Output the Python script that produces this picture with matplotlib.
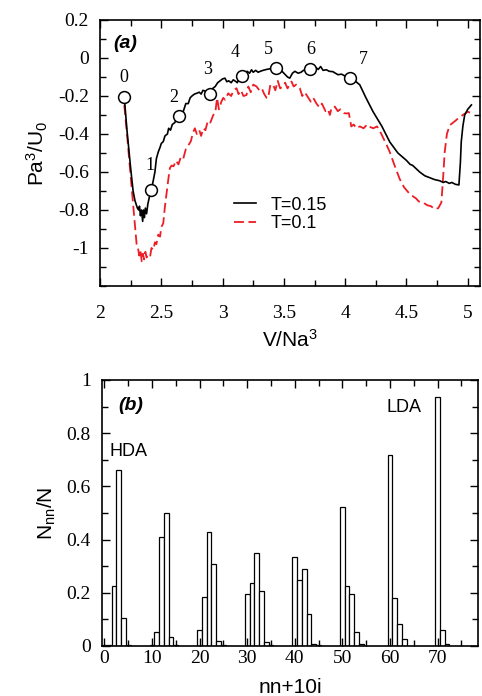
import matplotlib
matplotlib.use("Agg")
import matplotlib.pyplot as plt
from matplotlib.ticker import MultipleLocator

plt.rcParams["mathtext.fontset"] = "custom"
plt.rcParams["mathtext.rm"] = "Liberation Sans"
plt.rcParams["mathtext.it"] = "Liberation Sans:italic"

# ---- panel (a): pressure vs volume ----
v_hot = [2.198, 2.22, 2.25, 2.27, 2.285, 2.295, 2.305, 2.315, 2.322, 2.33, 2.338, 2.348,
         2.355, 2.362, 2.37, 2.38, 2.39, 2.40, 2.416, 2.43, 2.448, 2.46, 2.475, 2.49,
         2.50, 2.516, 2.53, 2.55, 2.56, 2.575, 2.59, 2.61, 2.625, 2.644, 2.66, 2.68,
         2.70, 2.72, 2.735, 2.75, 2.77, 2.788, 2.81, 2.825, 2.84, 2.86, 2.88, 2.899,
         2.92, 2.94, 2.96, 2.98, 3.00, 3.019, 3.035, 3.05, 3.07, 3.087, 3.10, 3.12,
         3.14, 3.160, 3.18, 3.20, 3.22, 3.236, 3.25, 3.27, 3.29, 3.304, 3.33, 3.36,
         3.40, 3.434, 3.47, 3.50, 3.53, 3.548, 3.57, 3.59, 3.616, 3.64, 3.66, 3.69,
         3.717, 3.74, 3.76, 3.78, 3.80, 3.82, 3.847, 3.87, 3.90, 3.92, 3.942, 3.97,
         4.00, 4.043, 4.08, 4.119, 4.17, 4.228, 4.30, 4.364, 4.43, 4.50, 4.53, 4.55,
         4.608, 4.65, 4.69, 4.73, 4.771, 4.80, 4.82, 4.85, 4.87, 4.90, 4.928, 4.94,
         4.947, 4.96, 4.975, 5.00, 5.03]
p_hot = [-0.207, -0.38, -0.58, -0.70, -0.75, -0.77, -0.79, -0.80, -0.78, -0.83, -0.80, -0.86,
         -0.80, -0.84, -0.79, -0.82, -0.77, -0.74, -0.695, -0.66, -0.60, -0.53, -0.495, -0.47,
         -0.45, -0.44, -0.41, -0.40, -0.37, -0.38, -0.35, -0.34, -0.32, -0.304, -0.29, -0.28,
         -0.24, -0.24, -0.21, -0.20, -0.19, -0.186, -0.18, -0.19, -0.17, -0.175, -0.18, -0.187,
         -0.16, -0.15, -0.13, -0.12, -0.11, -0.106, -0.125, -0.12, -0.13, -0.115, -0.12, -0.13,
         -0.10, -0.094, -0.085, -0.07, -0.08, -0.062, -0.075, -0.065, -0.075, -0.071, -0.065, -0.06,
         -0.055, -0.053, -0.06, -0.08, -0.10, -0.106, -0.08, -0.07, -0.08, -0.075, -0.065, -0.06,
         -0.057, -0.058, -0.05, -0.06, -0.045, -0.065, -0.062, -0.07, -0.072, -0.08, -0.088, -0.085,
         -0.095, -0.103, -0.12, -0.141, -0.21, -0.283, -0.36, -0.442, -0.50, -0.539, -0.56, -0.565,
         -0.60, -0.62, -0.63, -0.64, -0.646, -0.655, -0.65, -0.66, -0.655, -0.665, -0.668, -0.55,
         -0.442, -0.36, -0.30, -0.27, -0.247]

v_cold = [2.198, 2.22, 2.245, 2.26, 2.272, 2.285, 2.30, 2.31, 2.32, 2.33, 2.34, 2.35,
          2.36, 2.37, 2.38, 2.394, 2.41, 2.42, 2.435, 2.448, 2.46, 2.475, 2.49, 2.50,
          2.516, 2.53, 2.545, 2.557, 2.57, 2.584, 2.60, 2.62, 2.64, 2.66, 2.679, 2.70,
          2.72, 2.74, 2.76, 2.774, 2.79, 2.81, 2.825, 2.842, 2.86, 2.88, 2.90, 2.924,
          2.94, 2.955, 2.97, 2.99, 3.005, 3.02, 3.046, 3.07, 3.09, 3.114, 3.13, 3.15,
          3.17, 3.195, 3.21, 3.23, 3.25, 3.277, 3.30, 3.32, 3.34, 3.36, 3.371, 3.39,
          3.413, 3.43, 3.45, 3.47, 3.49, 3.51, 3.53, 3.562, 3.58, 3.60, 3.63, 3.65,
          3.67, 3.70, 3.72, 3.74, 3.766, 3.79, 3.81, 3.84, 3.86, 3.875, 3.89, 3.916,
          3.94, 3.96, 3.99, 4.011, 4.03, 4.05, 4.07, 4.09, 4.12, 4.15, 4.18, 4.20,
          4.23, 4.26, 4.28, 4.31, 4.34, 4.364, 4.40, 4.445, 4.48, 4.527, 4.58, 4.60,
          4.635, 4.67, 4.70, 4.731, 4.76, 4.785, 4.80, 4.812, 4.83, 4.853, 4.88, 4.90,
          4.935, 4.96, 5.0, 5.04]
p_cold = [-0.248, -0.40, -0.584, -0.70, -0.778, -0.88, -0.99, -1.00, -1.04, -1.01, -1.07, -1.03,
          -1.06, -1.02, -1.05, -1.03, -1.04, -1.00, -1.01, -0.97, -0.98, -0.93, -0.94, -0.89,
          -0.87, -0.78, -0.70, -0.64, -0.58, -0.566, -0.57, -0.54, -0.56, -0.52, -0.53, -0.48,
          -0.46, -0.44, -0.39, -0.37, -0.40, -0.38, -0.41, -0.37, -0.38, -0.33, -0.34, -0.30,
          -0.29, -0.21, -0.27, -0.23, -0.21, -0.22, -0.186, -0.20, -0.17, -0.159, -0.19, -0.17,
          -0.20, -0.195, -0.15, -0.18, -0.14, -0.15, -0.17, -0.16, -0.19, -0.21, -0.212, -0.14,
          -0.141, -0.17, -0.12, -0.16, -0.15, -0.13, -0.16, -0.124, -0.15, -0.14, -0.159, -0.20,
          -0.18, -0.21, -0.23, -0.21, -0.24, -0.26, -0.24, -0.28, -0.27, -0.30, -0.26, -0.256,
          -0.28, -0.27, -0.29, -0.292, -0.29, -0.36, -0.35, -0.37, -0.36, -0.37, -0.35, -0.362,
          -0.37, -0.36, -0.38, -0.42, -0.46, -0.495, -0.56, -0.637, -0.68, -0.716, -0.74, -0.755,
          -0.76, -0.775, -0.78, -0.796, -0.79, -0.76, -0.62, -0.495, -0.40, -0.354, -0.34, -0.33,
          -0.31, -0.30, -0.283, -0.292]

state_v = [2.198, 2.416, 2.644, 2.899, 3.160, 3.434, 3.717, 4.043]
state_p = [-0.207, -0.695, -0.304, -0.187, -0.094, -0.053, -0.057, -0.103]
state_labels = ["0", "1", "2", "3", "4", "5", "6", "7"]

# ---- panel (b): nearest-neighbour histogram ----
nn_pos = [0, 1, 2, 3, 4, 5,
          10, 11, 12, 13, 14, 15,
          20, 21, 22, 23, 24, 25,
          30, 31, 32, 33, 34, 35,
          40, 41, 42, 43, 44, 45,
          50, 51, 52, 53, 54,
          60, 61, 62, 63,
          70, 71, 72]
nn_frac = [0.004, 0.004, 0.225, 0.66, 0.107, 0.003,
           0.004, 0.054, 0.41, 0.50, 0.035, 0.003,
           0.062, 0.183, 0.43, 0.307, 0.018, 0.004,
           0.195, 0.238, 0.348, 0.207, 0.014, 0.004,
           0.336, 0.248, 0.289, 0.121, 0.009, 0.003,
           0.521, 0.226, 0.195, 0.054, 0.006,
           0.717, 0.179, 0.082, 0.025,
           0.935, 0.06, 0.008]

# label offsets (points, centre of number relative to marker)
label_offsets = [(0, 14), (-1, 17.5), (-4, 13), (-2, 17), (-5, 16.5), (-5, 13.5), (0, 14), (9.5, 13)]

serif = "Liberation Serif"
sans = "Liberation Sans"

fig = plt.figure(figsize=(4.82, 6.96), dpi=100)
ax1 = fig.add_axes([100 / 482, 1 - 286 / 696, 380 / 482, 266 / 696])
ax2 = fig.add_axes([102 / 482, 1 - 646 / 696, 376 / 482, 266 / 696])

for ax in (ax1, ax2):
    ax.tick_params(which="both", direction="in", top=True, right=True, width=1.0)
    ax.tick_params(which="major", length=6)
    ax.tick_params(which="minor", length=4)
    for sp in ax.spines.values():
        sp.set_linewidth(1.2)

# (a)
ax1.plot(v_hot, p_hot, color="black", lw=1.2, label="T=0.15", zorder=3)
ax1.plot(v_cold, p_cold, color="#ee1c25", lw=1.3, dashes=(5.5, 2.5), label="T=0.1", zorder=2)
ax1.plot(state_v, state_p, "o", ms=8.5, mfc="white", mec="black", mew=1.1, zorder=4)
for v, p, t, off in zip(state_v, state_p, state_labels, label_offsets):
    ax1.annotate(t, (v, p), xytext=off, textcoords="offset points",
                 ha="center", va="center", fontsize=13, family=serif)
ax1.set_xlim(2, 5.1)
ax1.set_ylim(-1.2, 0.2)
ax1.xaxis.set_minor_locator(MultipleLocator(0.25))
ax1.yaxis.set_minor_locator(MultipleLocator(0.1))
ax1.set_xticks([2, 2.5, 3, 3.5, 4, 4.5, 5])
ax1.set_xticklabels(["2", "2.5", "3", "3.5", "4", "4.5", "5"])
ax1.set_yticks([-1, -0.8, -0.6, -0.4, -0.2, 0, 0.2])
ax1.set_yticklabels(["-1", "-0.8", "-0.6", "-0.4", "-0.2", "0", "0.2"])
ax1.tick_params(axis="x", labelsize=14, pad=14)
ax1.tick_params(axis="y", labelsize=14, pad=8)
for lab in ax1.get_xticklabels() + ax1.get_yticklabels():
    lab.set_fontfamily(serif)
ax1.set_xlabel("V/Na$^3$", fontsize=15, family=sans, labelpad=5)
ax1.set_ylabel("Pa$^3$/U$_0$", fontsize=15, family=sans, labelpad=6)
ax1.text(0.035, 0.913, "(a)", transform=ax1.transAxes, fontsize=14,
         fontweight="bold", fontstyle="italic", family=sans, va="center")
ax1.legend(loc="upper left", bbox_to_anchor=(0.33, 0.37), frameon=False,
           prop={"family": sans, "size": 13}, handlelength=1.2,
           handletextpad=0.8, labelspacing=0.1, borderpad=0)

# (b)
ax2.bar(nn_pos, nn_frac, width=1.0, color="white", edgecolor="black", linewidth=0.9)
ax2.set_xlim(-0.5, 78.5)
ax2.set_ylim(0, 1)
ax2.xaxis.set_minor_locator(MultipleLocator(5))
ax2.yaxis.set_minor_locator(MultipleLocator(0.1))
ax2.set_xticks([0, 10, 20, 30, 40, 50, 60, 70])
ax2.set_yticks([0, 0.2, 0.4, 0.6, 0.8, 1])
ax2.set_yticklabels(["0", "0.2", "0.4", "0.6", "0.8", "1"])
ax2.tick_params(axis="x", labelsize=14, pad=3)
ax2.tick_params(axis="y", labelsize=14, pad=8)
for lab in ax2.get_xticklabels() + ax2.get_yticklabels():
    lab.set_fontfamily(serif)
ax2.set_xlabel("nn+10i", fontsize=15, family=sans, labelpad=8)
ax2.set_ylabel("N$_\\mathrm{nn}$/N", fontsize=15, family=sans, labelpad=6)
ax2.text(0.043, 0.906, "(b)", transform=ax2.transAxes, fontsize=14,
         fontweight="bold", fontstyle="italic", family=sans, va="center")
ax2.text(1.0, 0.73, "HDA", fontsize=13, family=sans, va="center", ha="left")
ax2.text(59.2, 0.897, "LDA", fontsize=13, family=sans, va="center", ha="left")

fig.savefig("out.png", dpi=100)
